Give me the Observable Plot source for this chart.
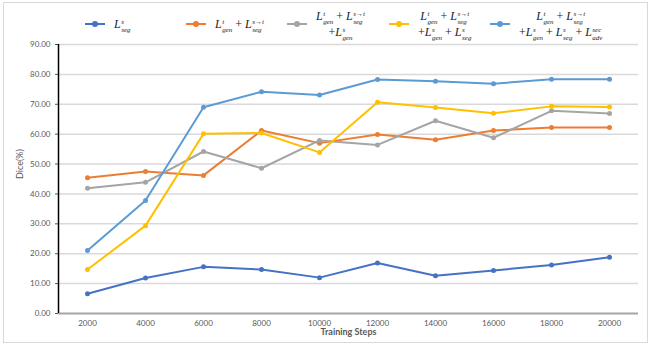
<!DOCTYPE html>
<html>
<head>
<meta charset="utf-8">
<script src="https://cdn.jsdelivr.net/npm/d3@7"></script>
<script src="https://cdn.jsdelivr.net/npm/@observablehq/plot@0.6"></script>
<style>
  html, body { margin: 0; padding: 0; background: #fff; }
  #wrap { position: relative; width: 653px; height: 346px; overflow: hidden; font-family: Lato, "Liberation Sans", sans-serif; }
  #border { position: absolute; left: 3px; top: 2px; width: 643px; height: 339px; border: 1px solid #d9d9d9; pointer-events: none; }
  #legend { position: relative; width: 653px; height: 40px; }
  .item { position: absolute; top: 0; height: 48px; display: flex; align-items: center; }
  .sw { position: relative; width: 20px; height: 2px; margin-right: 9px; }
  .sw::after { content: ""; position: absolute; left: 7px; top: -2px; width: 6px; height: 6px; border-radius: 50%; background: inherit; }
  .math { font-family: "Liberation Serif", "DejaVu Serif", serif; font-size: 12px; color: #222; line-height: 16px; text-align: center; white-space: nowrap; }
  .math i { font-style: italic; }
  .ss { display: inline-flex; flex-direction: column; vertical-align: 4px; font-size: 7px; line-height: 8px; font-style: italic; margin: -5px 0 -5px 0.5px; text-align: left; }
  .op { padding: 0 3px; }
  svg { display: block; }
</style>
</head>
<body>
<div id="wrap">
  <div id="border"></div>
  <div id="legend"></div>
  <div id="chart"></div>
</div>
<script>
const steps = [2000, 4000, 6000, 8000, 10000, 12000, 14000, 16000, 18000, 20000];
const yTicks = [0, 10, 20, 30, 40, 50, 60, 70, 80, 90];
const seriesKeys = ["segS", "genSeg", "genSegGen", "genSegGenSeg", "full"];
const seriesColors = ["#4472C4", "#ED7D31", "#A5A5A5", "#FFC000", "#5B9BD5"];
const segS = [6.6, 11.9, 15.6, 14.7, 12.0, 16.9, 12.6, 14.4, 16.2, 18.8];
const genSeg = [45.4, 47.5, 46.2, 61.2, 57.0, 59.9, 58.1, 61.2, 62.2, 62.2];
const genSegGen = [41.9, 43.9, 54.2, 48.6, 57.9, 56.4, 64.5, 58.8, 67.8, 66.9];
const genSegGenSeg = [14.7, 29.4, 60.1, 60.4, 53.9, 70.7, 68.9, 67.0, 69.3, 69.1];
const full = [21.1, 37.8, 69.0, 74.2, 73.1, 78.3, 77.7, 76.9, 78.4, 78.4];
const seriesValues = [segS, genSeg, genSegGen, genSegGenSeg, full];

// Legend labels (HTML math)
function L(sup, sub) {
  return `<i>L</i><span class="ss"><span>${sup}</span><span>${sub}</span></span>`;
}
const plus = `<span class="op">+</span>`;
const legendLabels = [
  L("s", "seg"),
  L("t", "gen") + plus + L("s→t", "seg"),
  L("t", "gen") + plus + L("s→t", "seg") + "<br>" + "+" + L("s", "gen"),
  L("t", "gen") + plus + L("s→t", "seg") + "<br>" + "+" + L("s", "gen") + plus + L("s", "seg"),
  L("t", "gen") + plus + L("s→t", "seg") + "<br>" + "+" + L("s", "gen") + plus + L("s", "seg") + plus + L("sec", "adv")
];
const legendX = [85, 186, 287, 389, 490];

const legend = document.getElementById("legend");
seriesKeys.forEach((k, i) => {
  const it = document.createElement("div");
  it.className = "item";
  it.style.left = legendX[i] + "px";
  it.innerHTML = `<div class="sw" style="background:${seriesColors[i]}"></div><div class="math">${legendLabels[i]}</div>`;
  legend.appendChild(it);
});

const data = [];
seriesKeys.forEach((k, i) => {
  steps.forEach((s, j) => data.push({series: k, step: s, value: seriesValues[i][j]}));
});

const chart = Plot.plot({
  width: 653,
  height: 306,
  marginTop: 4,
  marginLeft: 58,
  marginRight: 15,
  marginBottom: 33,
  style: {fontFamily: "Lato, 'Liberation Sans', sans-serif", fontSize: "8px", color: "#595959", background: "transparent"},
  x: {domain: [1000, 21000], ticks: steps, tickSize: 0, tickPadding: 7, tickFormat: d => String(d), label: null},
  y: {domain: [0, 90], ticks: yTicks, tickFormat: d3.format(".2f"), tickSize: 3, tickPadding: 5, label: null},
  color: {domain: seriesKeys, range: seriesColors},
  marks: [
    Plot.ruleY(yTicks.filter(d => d > 0), {stroke: "#d9d9d9", strokeWidth: 1.5}),
    Plot.ruleY([0], {stroke: "#a6a6a6", strokeWidth: 2}),
    Plot.ruleX([1000], {stroke: "#000", strokeWidth: 1.5}),
    Plot.line(data, {x: "step", y: "value", z: "series", stroke: "series", strokeWidth: 2}),
    Plot.dot(data, {x: "step", y: "value", fill: "series", r: 2.5}),
    Plot.text(["Training Steps"], {frameAnchor: "bottom", lineAnchor: "middle", dy: 19, fontWeight: "bold", fontSize: 9, fill: "#595959"}),
    Plot.text(["Dice(%)"], {frameAnchor: "left", dx: -38, rotate: -90, fontSize: 9, fill: "#595959"})
  ]
});
document.getElementById("chart").appendChild(chart);
</script>
</body>
</html>
